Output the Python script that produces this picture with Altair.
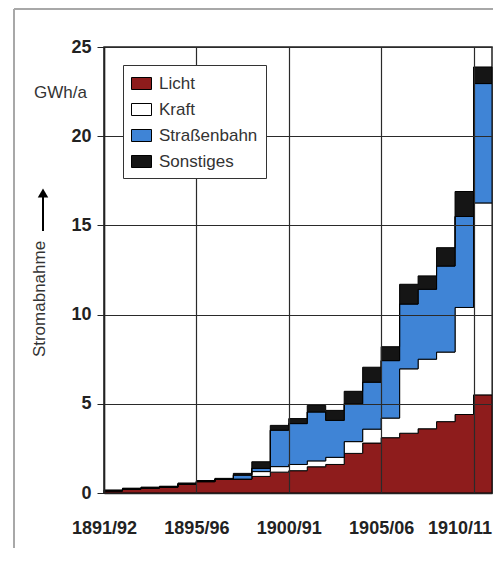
import json
import altair as alt
import pandas as pd

# ---- data ----
series = ["Licht", "Kraft", "Straßenbahn", "Sonstiges"]
colors = ["#8e1c1c", "#ffffff", "#3f84d6", "#151515"]
tick_labels = ["1891/92", "1895/96", "1900/91", "1905/06", "1910/11"]

licht = [0.12, 0.22, 0.28, 0.33, 0.50, 0.64, 0.76, 0.78, 0.93, 1.17, 1.25,
         1.47, 1.60, 2.22, 2.80, 3.10, 3.35, 3.60, 4.00, 4.40, 5.50]
kraft = [0, 0, 0, 0, 0, 0, 0, 0, 0.27, 0.31, 0.35,
         0.33, 0.40, 0.66, 0.78, 1.10, 3.61, 3.90, 3.90, 6.00, 10.76]
strassenbahn = [0, 0, 0, 0, 0, 0, 0, 0.22, 0.18, 2.04, 2.29,
                2.74, 2.07, 2.12, 2.63, 3.22, 3.63, 3.92, 4.82, 5.10, 6.69]
sonstiges = [0.05, 0.05, 0.05, 0.05, 0.06, 0.06, 0.06, 0.10, 0.37, 0.27, 0.28,
             0.37, 0.56, 0.70, 0.84, 0.78, 1.11, 0.75, 1.03, 1.40, 0.93]

values = [licht, kraft, strassenbahn, sonstiges]
n = len(licht)

rows = []
for i in range(n + 1):          # extra end point closes the last step
    j = min(i, n - 1)
    for k, name in enumerate(series):
        rows.append({"x": i, "serie": name, "k": k, "v": values[k][j]})
df = pd.DataFrame(rows)

W, H = 388, 446
label_expr = json.dumps(tick_labels) + "[round(datum.value/5)]"

areas = alt.Chart(df).mark_area(
    interpolate="step-after", stroke="black", strokeWidth=1, opacity=1
).encode(
    x=alt.X("x:Q",
            scale=alt.Scale(domain=[0, n], nice=False, zero=False),
            axis=alt.Axis(values=[0, 5, 10, 15, 20], labelExpr=label_expr,
                          grid=True, gridColor="#2a2a2a", gridWidth=1.2,
                          gridOpacity=1, ticks=False, labelPadding=26,
                          labelFontSize=18, labelFontWeight="bold",
                          labelColor="#222", domainColor="#222",
                          domainWidth=1.5, labelFlush=False,
                          labelOffset={"expr": "datum.value == 20 ? -14 : 0"},
                          labelOverlap=False, title=None, zindex=1)),
    y=alt.Y("v:Q", stack="zero",
            scale=alt.Scale(domain=[0, 25], nice=False),
            axis=alt.Axis(values=[0, 5, 10, 15, 20, 25], grid=True,
                          gridColor="#2a2a2a", gridWidth=1.2, gridOpacity=1,
                          tickSize=7, tickColor="#222", labelPadding=6,
                          labelFontSize=18, labelFontWeight="bold",
                          labelColor="#222", domainColor="#222",
                          domainWidth=1.5, title=None, zindex=1)),
    color=alt.Color("serie:N",
                    scale=alt.Scale(domain=series, range=colors),
                    legend=alt.Legend(orient="none", legendX=19, legendY=18,
                                      title=None, fillColor="white",
                                      strokeColor="#333", padding=8,
                                      symbolType="M-1,-0.6H1V0.6H-1Z",
                                      symbolSize=400, symbolStrokeColor="black",
                                      symbolStrokeWidth=1, symbolOpacity=1,
                                      labelFontSize=17, labelColor="#333",
                                      rowPadding=7, labelOffset=7, zindex=2)),
    order=alt.Order("k:Q", sort="ascending"),
)

one = pd.DataFrame({"t": ["GWh/a"], "s": ["Stromabnahme"]})

unit = alt.Chart(one).mark_text(
    align="right", baseline="middle", fontSize=17, color="#333"
).encode(x=alt.value(-17), y=alt.value(46), text="t:N")

ytitle = alt.Chart(one).mark_text(
    align="center", baseline="middle", fontSize=17, color="#333", angle=270
).encode(x=alt.value(-64), y=alt.value(252), text="s:N")

shaft = alt.Chart(one).mark_rule(color="black", strokeWidth=2).encode(
    x=alt.value(-61), y=alt.value(150), y2=alt.value(184))
head = alt.Chart(one).mark_point(
    shape="triangle-up", filled=True, size=110, color="black", opacity=1
).encode(x=alt.value(-61), y=alt.value(146))

frame_left = alt.Chart(one).mark_rule(color="#a8a8a8", strokeWidth=2).encode(
    x=alt.value(-90), y=alt.value(-38), y2=alt.value(505))
frame_top = alt.Chart(one).mark_rule(color="#a8a8a8", strokeWidth=2).encode(
    x=alt.value(-90), x2=alt.value(W + 2), y=alt.value(-38))

chart = alt.layer(
    areas, unit, ytitle, shaft, head, frame_left, frame_top
).properties(
    width=W, height=H,
    padding={"left": 96, "top": 39, "right": 1, "bottom": 55},
    autosize=alt.AutoSizeParams(type="none"),
).configure(
    font="Liberation Sans"
).configure_view(
    stroke="#222", strokeWidth=1.5
)

chart.save("out.html", embed_options={"renderer": "svg", "actions": False})
